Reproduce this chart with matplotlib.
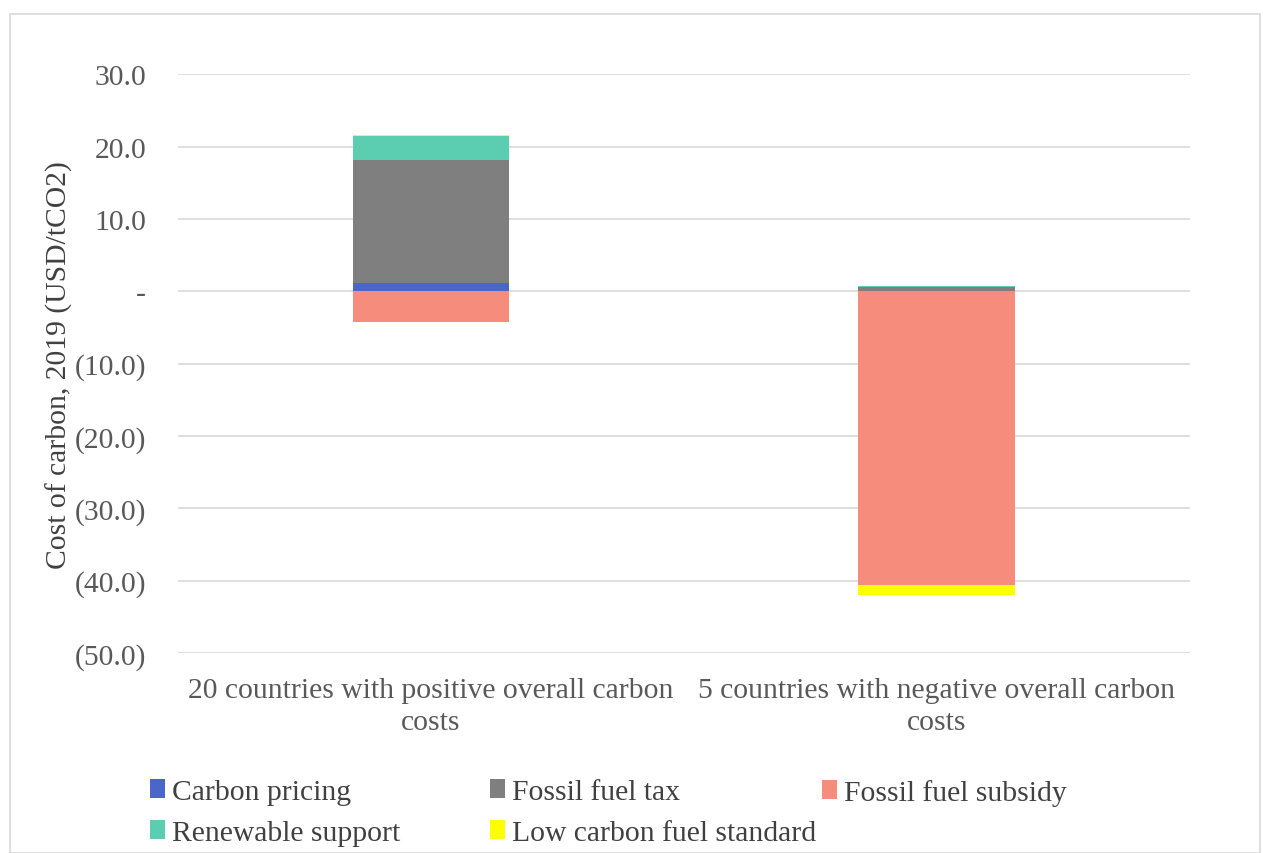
import matplotlib.pyplot as plt
from matplotlib.patches import Rectangle
import numpy as np

plt.rcParams['font.family'] = ['Liberation Serif', 'DejaVu Serif']

categories = ['20 countries with positive overall carbon\ncosts',
              '5 countries with negative overall carbon\ncosts']
carbon_pricing = [1.2, 0.0]
fossil_fuel_tax = [16.9, 0.6]
renewable_support = [3.4, 0.1]
fossil_fuel_subsidy = [-4.2, -40.6]
low_carbon_fuel_standard = [0.15, -1.4]

series = [
    ('Carbon pricing', carbon_pricing, '#4a66c8'),
    ('Fossil fuel tax', fossil_fuel_tax, '#7f7f7f'),
    ('Fossil fuel subsidy', fossil_fuel_subsidy, '#f68c7b'),
    ('Renewable support', renewable_support, '#5bcdb0'),
    ('Low carbon fuel standard', low_carbon_fuel_standard, '#ffff00'),
]


def fmt(v, pos):
    if abs(v) < 1e-9:
        return '-'
    if v < 0:
        return f'({-v:.1f})'
    return f'{v:.1f}'


fig = plt.figure(figsize=(12.63, 8.54), dpi=100)
ax = fig.add_axes([0.141, 0.234, 0.801, 0.678])

x = np.arange(len(categories))
pos_base = np.zeros(len(categories))
neg_base = np.zeros(len(categories))
handles = []
for name, vals, color in series:
    vals = np.array(vals)
    bottoms = np.where(vals >= 0, pos_base, neg_base)
    b = ax.bar(x, vals, width=0.31, bottom=bottoms, color=color, label=name, zorder=3)
    handles.append(b)
    pos_base = pos_base + np.where(vals >= 0, vals, 0)
    neg_base = neg_base + np.where(vals < 0, vals, 0)

ax.set_xlim(-0.5, 1.5)
ax.set_ylim(-50, 30)
ax.set_yticks(np.arange(-50, 31, 10))
ax.yaxis.set_major_formatter(plt.FuncFormatter(fmt))
ax.set_xticks(x)
ax.set_xticklabels(categories, fontsize=21.3, color='#595959', linespacing=1.33)
ax.tick_params(axis='y', labelsize=21.3, labelcolor='#595959', length=0, pad=23)
ax.tick_params(axis='x', length=0, pad=17)
ax.grid(axis='y', color='#d9d9d9', linewidth=1.2, zorder=0)
for s in ax.spines.values():
    s.set_visible(False)
ax.set_ylabel('Cost of carbon, 2019 (USD/tCO2)', fontsize=21.3, color='#404040', labelpad=1)

# one legend per column so the columns sit where the reference has them
col_x = [0.1188, 0.388, 0.651]
columns = [[0, 3], [1, 4], [2]]
for cx, idx in zip(col_x, columns):
    leg = fig.legend([handles[i] for i in idx], [series[i][0] for i in idx],
                     loc='upper left', bbox_to_anchor=(cx, 0.0865), frameon=False,
                     fontsize=21.3, labelcolor='#404040', handlelength=0.5,
                     handleheight=0.6, handletextpad=0.25, labelspacing=0.5,
                     borderpad=0, borderaxespad=0)

fig.patches.append(Rectangle((0.008, 0.0), 0.99, 0.982, transform=fig.transFigure,
                             fill=False, edgecolor='#d9d9d9', linewidth=1.2))

fig.savefig('out.png', dpi=100)
